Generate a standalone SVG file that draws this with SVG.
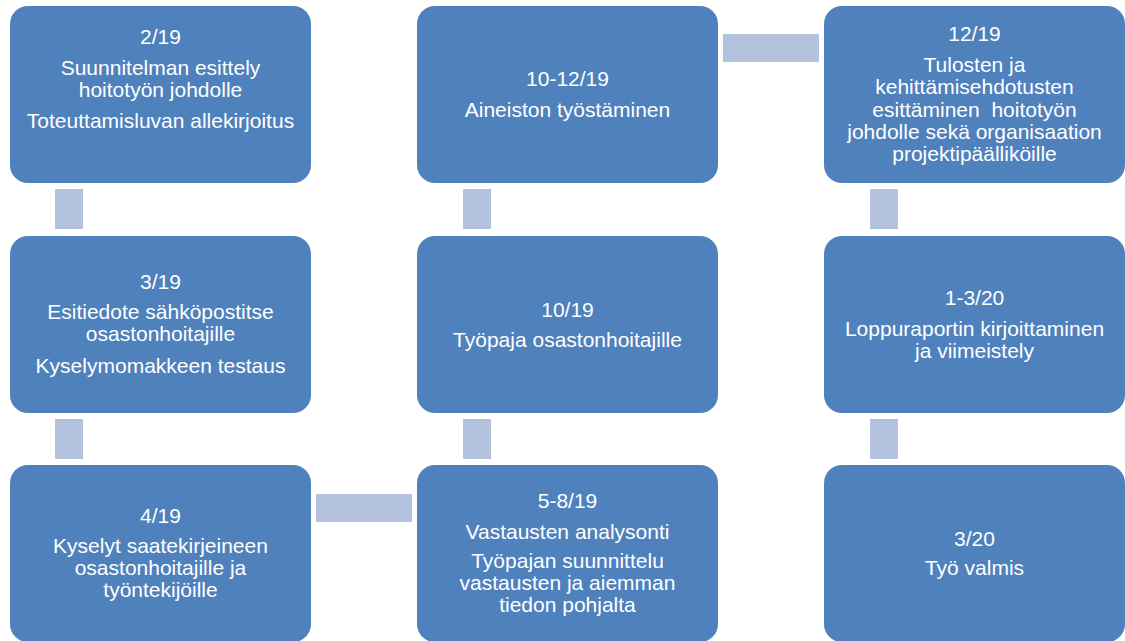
<svg xmlns="http://www.w3.org/2000/svg" width="1125" height="641" viewBox="0 0 1125 641">
<style>
.box{fill:#4F81BD;}
.con{fill:#B3C2DD;}
text{font-family:"Liberation Sans",Arial,sans-serif;font-size:21px;fill:#FFFFFF;text-anchor:middle;}
</style>
<rect width="1125" height="641" fill="#FFFFFF"/>
<g id="connectors">
<rect class="con" x="55" y="189" width="28" height="40"/>
<rect class="con" x="55" y="419" width="28" height="40"/>
<rect class="con" x="316" y="494" width="96" height="28"/>
<rect class="con" x="463" y="419" width="28" height="40"/>
<rect class="con" x="463" y="189" width="28" height="40"/>
<rect class="con" x="723" y="34" width="96" height="28"/>
<rect class="con" x="870" y="189" width="28" height="40"/>
<rect class="con" x="870" y="419" width="28" height="40"/>
</g>
<g id="n1">
<rect class="box" x="10" y="6" width="301" height="177" rx="18"/>
<text x="160.5" y="44">2/19</text>
<text x="160.5" y="75">Suunnitelman esittely</text>
<text x="160.5" y="97">hoitotyön johdolle</text>
<text x="160.5" y="128">Toteuttamisluvan allekirjoitus</text>
</g>
<g id="n2">
<rect class="box" x="10" y="236" width="301" height="177" rx="18"/>
<text x="160.5" y="289">3/19</text>
<text x="160.5" y="319">Esitiedote sähköpostitse</text>
<text x="160.5" y="341">osastonhoitajille</text>
<text x="160.5" y="373">Kyselymomakkeen testaus</text>
</g>
<g id="n3">
<rect class="box" x="10" y="465" width="301" height="177" rx="18"/>
<text x="160.5" y="523">4/19</text>
<text x="160.5" y="553">Kyselyt saatekirjeineen</text>
<text x="160.5" y="575">osastonhoitajille ja</text>
<text x="160.5" y="597">työntekijöille</text>
</g>
<g id="n4">
<rect class="box" x="417" y="465" width="301" height="177" rx="18"/>
<text x="567.5" y="508">5-8/19</text>
<text x="567.5" y="539">Vastausten analysonti</text>
<text x="567.5" y="568">Työpajan suunnittelu</text>
<text x="567.5" y="590">vastausten ja aiemman</text>
<text x="567.5" y="612">tiedon pohjalta</text>
</g>
<g id="n5">
<rect class="box" x="417" y="236" width="301" height="177" rx="18"/>
<text x="567.5" y="317">10/19</text>
<text x="567.5" y="347">Työpaja osastonhoitajille</text>
</g>
<g id="n6">
<rect class="box" x="417" y="6" width="301" height="177" rx="18"/>
<text x="567.5" y="86">10-12/19</text>
<text x="567.5" y="117">Aineiston työstäminen</text>
</g>
<g id="n7">
<rect class="box" x="824" y="6" width="301" height="177" rx="18"/>
<text x="974.5" y="41">12/19</text>
<text x="974.5" y="72">Tulosten ja</text>
<text x="974.5" y="94">kehittämisehdotusten</text>
<text x="974.5" y="117" style="white-space:pre">esittäminen  hoitotyön</text>
<text x="974.5" y="139">johdolle sekä organisaation</text>
<text x="974.5" y="161">projektipäälliköille</text>
</g>
<g id="n8">
<rect class="box" x="824" y="236" width="301" height="177" rx="18"/>
<text x="974.5" y="305">1-3/20</text>
<text x="974.5" y="336">Loppuraportin kirjoittaminen</text>
<text x="974.5" y="358">ja viimeistely</text>
</g>
<g id="n9">
<rect class="box" x="824" y="465" width="301" height="177" rx="18"/>
<text x="974.5" y="546">3/20</text>
<text x="974.5" y="575">Työ valmis</text>
</g>
</svg>
